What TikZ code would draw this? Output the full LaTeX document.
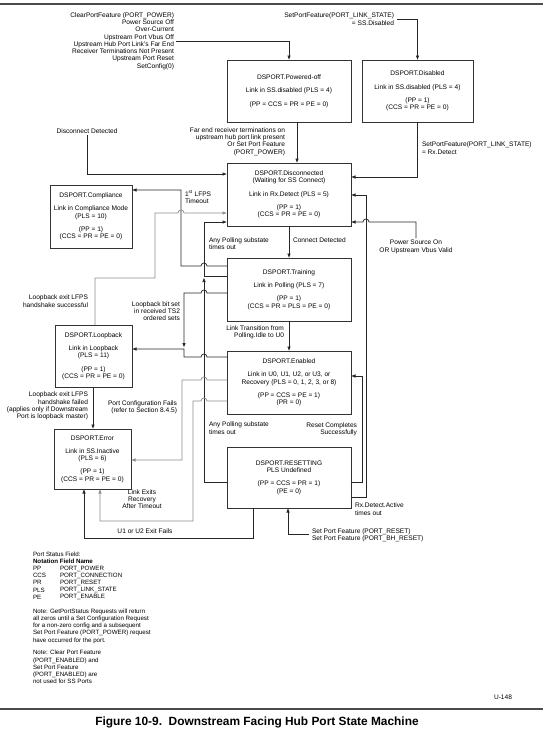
\documentclass[tikz,border=0pt]{standalone}
\usepackage{fontspec}
\setmainfont{Liberation Sans}
\usetikzlibrary{arrows.meta}
\begin{document}
\begin{tikzpicture}[x=1pt,y=-1pt,
  every node/.style={inner sep=0pt,outer sep=0pt},
  txt/.style={font=\fontsize{6.6}{7.3}\selectfont},
  lblr/.style={txt,align=right},
  lbll/.style={txt,align=left},
  lblc/.style={txt,align=center},
  leg/.style={font=\fontsize{6.2}{7.2}\selectfont,align=left},
  stbox/.style={draw=black!80,line width=0.8pt,txt,align=center},
  conn/.style={draw=black!85,line width=0.7pt,-{Latex[length=4.5pt,width=3.6pt]}},
  gconn/.style={conn,draw=black!45},
  rule/.style={draw=black!70,line width=1.4pt}
]
\useasboundingbox (0,0) rectangle (543,734);
\draw[rule] (0,4) -- (543,4);
\draw[rule] (0,709) -- (543,709);

% state boxes
\node[stbox,minimum width=124pt,minimum height=62pt] (poff) at (289,91)
  {DSPORT.Powered-off\\[6pt]Link in SS.disabled (PLS = 4)\\[6pt](PP = CCS = PR = PE = 0)};
\node[stbox,minimum width=111pt,minimum height=62pt] (dis) at (417.5,91)
  {DSPORT.Disabled\\[6pt]Link in SS.disabled (PLS = 4)\\[6pt](PP = 1)\\(CCS = PR = PE = 0)};
\node[stbox,minimum width=124pt,minimum height=63pt] (disc) at (289,194.5)
  {DSPORT.Disconnected\\(Waiting for SS Connect)\\[6pt]Link in Rx.Detect (PLS = 5)\\[6pt](PP = 1)\\(CCS = PR = PE = 0)};
\node[stbox,minimum width=82pt,minimum height=63pt] (comp) at (91,216.5)
  {DSPORT.Compliance\\[6pt]Link in Compliance Mode\\(PLS = 10)\\[6pt](PP = 1)\\(CCS = PR = PE = 0)};
\node[stbox,minimum width=124pt,minimum height=63pt] (train) at (289,289.5)
  {DSPORT.Training\\[6pt]Link in Polling (PLS = 7)\\[6pt](PP = 1)\\(CCS = PR = PLS = PE = 0)};
\node[stbox,minimum width=77pt,minimum height=62pt] (loop) at (93.5,356)
  {DSPORT.Loopback\\[6pt]Link in Loopback\\(PLS = 11)\\[6pt](PP = 1)\\(CCS = PR = PE = 0)};
\node[stbox,minimum width=124pt,minimum height=63pt] (enab) at (289,382.5)
  {DSPORT.Enabled\\[6pt]Link in U0, U1, U2, or U3, or\\Recovery (PLS = 0, 1, 2, 3, or 8)\\[6pt](PP = CCS = PE = 1)\\(PR = 0)};
\node[stbox,minimum width=77pt,minimum height=60pt] (err) at (92.5,459)
  {DSPORT.Error\\[6pt]Link in SS.Inactive\\(PLS = 6)\\[6pt](PP = 1)\\(CCS = PR = PE = 0)};
\node[stbox,minimum width=124pt,minimum height=61pt] (reset) at (289,477.5)
  {DSPORT.RESETTING\\PLS Undefined\\[6pt](PP = CCS = PR = 1)\\(PE = 0)};

% labels
\node[lblr,anchor=east] (tl) at (174,41) {ClearPortFeature (PORT\_POWER)\\Power Source Off\\Over-Current\\Upstream Port Vbus Off\\Upstream Hub Port Link's Far End\\Receiver Terminations Not Present\\Upstream Port Reset\\SetConfig(0)};
\node[lblr,anchor=east] (sdl) at (394,19) {SetPortFeature(PORT\_LINK\_STATE)\\= SS.Disabled};
\node[lblr,anchor=east] (fel) at (285,141.5) {Far end receiver terminations on\\upstream hub port link present\\Or Set Port Feature\\(PORT\_POWER)};
\node[lbll,anchor=west] (rxl) at (422,148) {SetPortFeature(PORT\_LINK\_STATE)\\= Rx.Detect};
\node[lblc] (psl) at (416,247) {Power Source On\\OR Upstream Vbus Valid};
\node[lblc] (ddl) at (87,131) {Disconnect Detected};
\node[lbll,anchor=west] (cdl) at (293,240) {Connect Detected};
\node[lblr,anchor=east] (ltl) at (284,332.5) {Link Transition from\\Polling.Idle to U0};
\node[lbll,anchor=west] (lfl) at (185,197) {1\textsuperscript{st} LFPS\\Timeout};
\node[lbll,anchor=west] (ap1) at (209,243.5) {Any Polling substate\\times out};
\node[lbll,anchor=west] (ap2) at (209,428) {Any Polling substate\\times out};
\node[lblr,anchor=east] (lsl) at (88,301) {Loopback exit LFPS\\handshake successful};
\node[lblr,anchor=east] (lbs) at (180,311) {Loopback bit set\\in received TS2\\ordered sets};
\node[lblr,anchor=east] (pcl) at (177,407) {Port Configuration Fails\\(refer to Section 8.4.5)};
\node[lblc] (lerl) at (142,499) {Link Exits\\Recovery\\After Timeout};
\node[lblc] (u12) at (145,531) {U1 or U2 Exit Fails};
\node[lbll,anchor=west] (spr) at (312,535) {Set Port Feature (PORT\_RESET)\\Set Port Feature (PORT\_BH\_RESET)};
\node[lblr,anchor=east] (lfl2) at (88,406) {Loopback exit LFPS\\handshake failed\\(applies only if Downstream\\Port is loopback master)};
\node[lblr,anchor=east] (rcl) at (357,429.5) {Reset Completes\\Successfully};
\node[lbll,anchor=west] (rdl) at (355,509) {Rx.Detect.Active\\times out};

% helper coordinates
\coordinate (m1) at (204,277.5);
\coordinate (m2) at (184,347.5);
\coordinate (sprs) at (309,534);

% connectors
\draw[conn] ([xshift=2pt]tl.east) -| (poff.north);
\draw[conn] ([xshift=3pt]sdl.east) -| (dis.north);
\draw[conn] ([xshift=8pt]poff.south) -- ([xshift=8pt]disc.north);
\draw[conn] (dis.south) |- (disc.east |- 0,177);
\draw[conn] ([yshift=2pt]psl.north) -- (psl.north |- 0,222) -- (369,222) arc[start angle=0,end angle=180,radius=3pt] -- (disc.east |- 0,222);
\draw[conn] ([yshift=-1.5pt]ddl.south) |- (disc.west |- 0,174);
\draw[conn] (disc.south) -- (train.north);
\draw[conn] (train.south) -- (enab.north);
\draw[conn] (train.west |- 0,266) -- (207,266) arc[start angle=0,end angle=180,radius=3pt] -- (181,266) -- (181,190) -- (comp.east |- 0,190);
\draw[conn] (train.west |- 0,276) -- (204,276) -- (204,222) -- (disc.west |- 0,222);
\draw[conn] (reset.west |- 0,482) -- (204,482) -- (m1);
\draw[gconn] (loop.north -| 95,0) -- (95,278) -- (155,278) -- (155,213) -- (178,213) arc[start angle=180,end angle=0,radius=3pt] -- (disc.west |- 0,213);
\draw[conn] (train.west |- 0,293) -- (207,293) arc[start angle=0,end angle=180,radius=3pt] -- (184,293) -- (m2);
\draw[conn] (enab.west |- 0,357) -- (207,357) arc[start angle=0,end angle=180,radius=3pt] -- (184,357) -- (184,349) -- (loop.east |- 0,349);
\draw[gconn] (enab.west |- 0,380) -- (207,380) arc[start angle=0,end angle=180,radius=3pt] -- (182,380) -- (182,460) -- (err.east |- 0,460);
\draw[gconn] (enab.west |- 0,401) -- (207,401) arc[start angle=0,end angle=180,radius=3pt] -- (193,401) -- (193,521) -- (100,521) -- (err.south -| 100,0);
\draw[conn] (reset.south -| 253,0) -- (253,538) -- (84,538) -- (err.south -| 84,0);
\draw[conn] (sprs) -| (reset.south -| 288,0);
\draw[conn] (loop.south -| 93,0) -- (err.north -| 93,0);
\draw[conn] (reset.east |- 0,482) -- (362,482) -- (362,376) -- (enab.east |- 0,376);
\draw[conn] (reset.east |- 0,497) -- (366,497) -- (366,195) -- (disc.east |- 0,195);

% legend and notes
\node[leg,anchor=west] (leg1) at (33,575.5) {Port Status Field:\\\textbf{Notation Field Name}\\PP\\CCS\\PR\\PLS\\PE};
\node[leg,anchor=west] (leg2) at (60,583) {PORT\_POWER\\PORT\_CONNECTION\\PORT\_RESET\\PORT\_LINK\_STATE\\PORT\_ENABLE};
\node[leg,anchor=west] (n1) at (33,626) {Note: GetPortStatus Requests will return\\all zeros until a Set Configuration Request\\for a non-zero config and a subsequent\\Set Port Feature (PORT\_POWER) request\\have occurred for the port.};
\node[leg,anchor=west] (n2) at (33,667) {Note: Clear Port Feature\\(PORT\_ENABLED) and\\Set Port Feature\\(PORT\_ENABLED) are\\not used for SS Ports};
\node[txt,anchor=east] (u148) at (512,697) {U-148};
\node[font=\fontsize{11.9}{14}\selectfont\bfseries] (cap) at (257,722) {Figure 10-9.\ \ Downstream Facing Hub Port State Machine};
\end{tikzpicture}
\end{document}
